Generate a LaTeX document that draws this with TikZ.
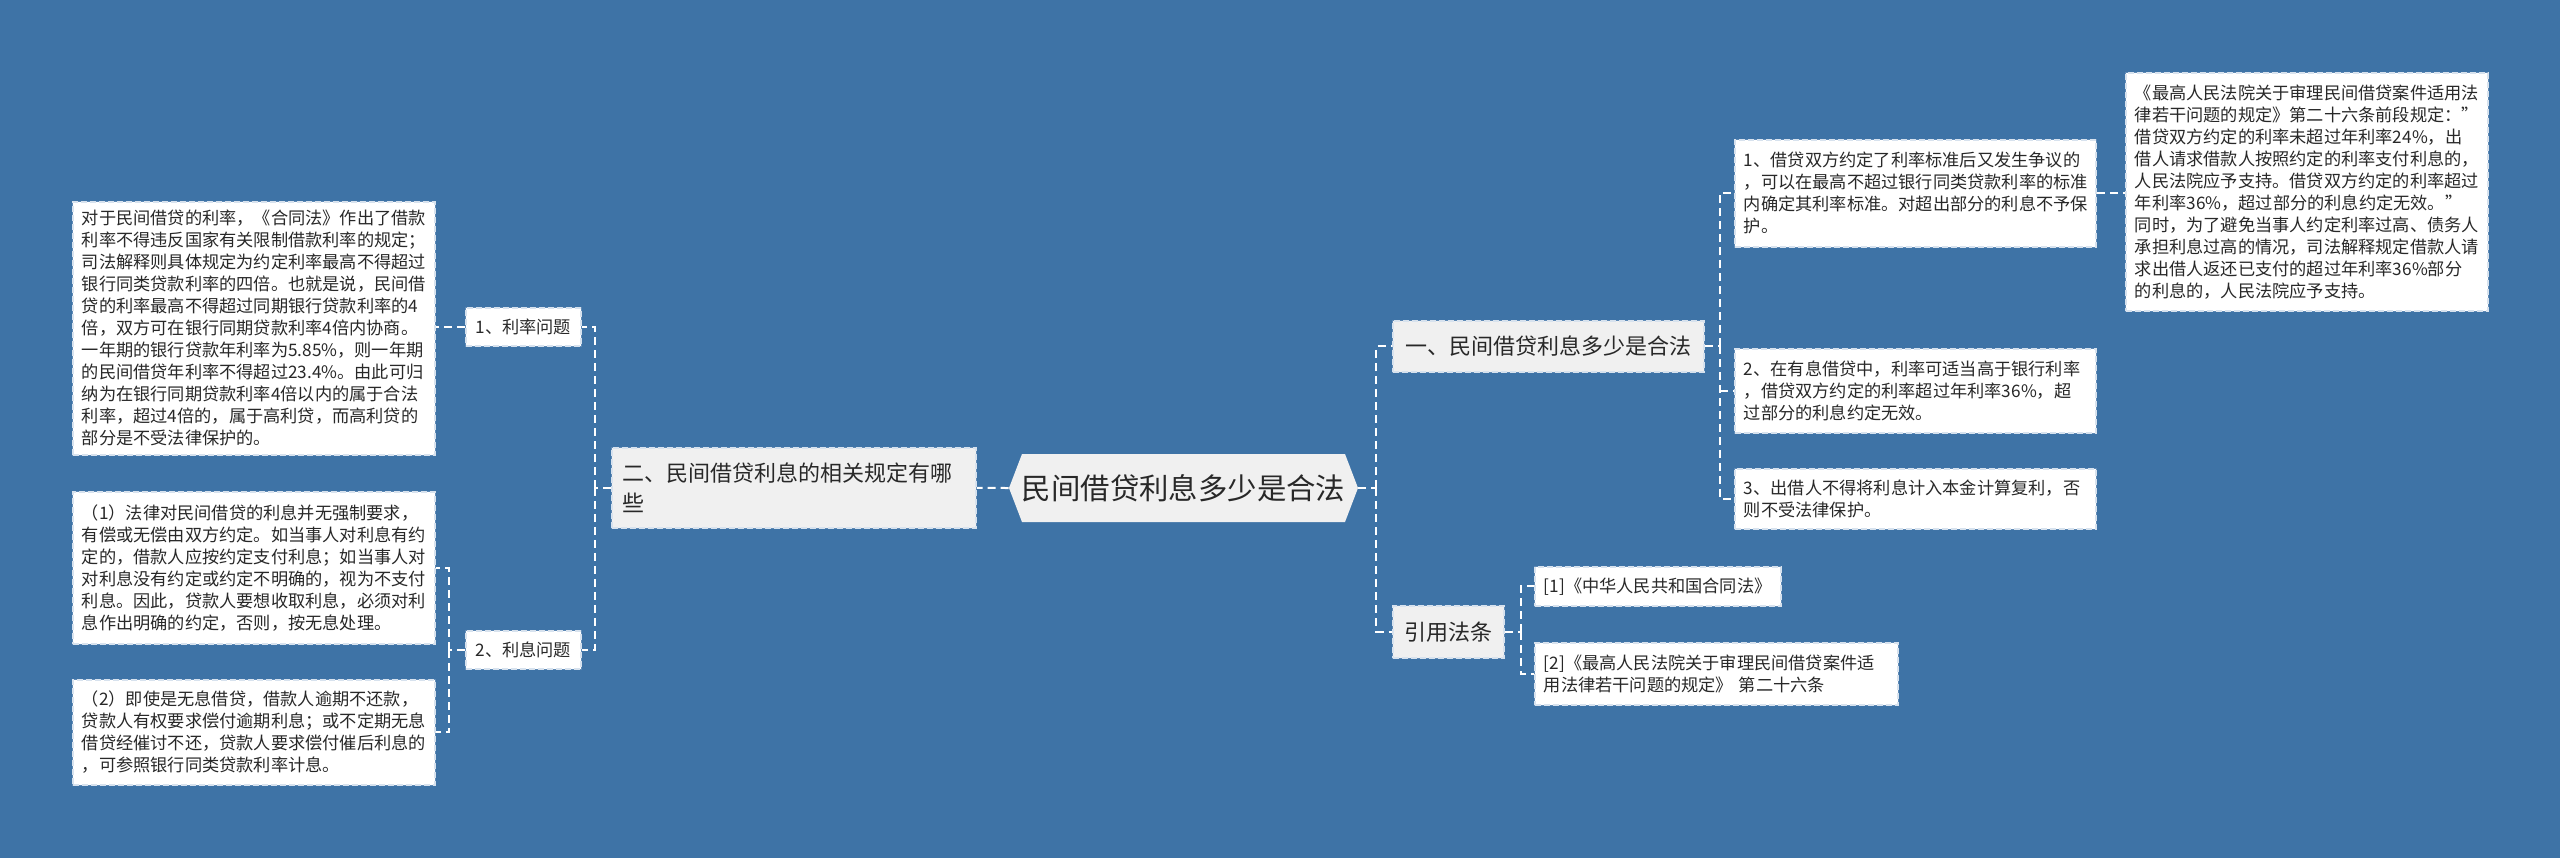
\documentclass[tikz,border=0pt]{standalone}
\usepackage{fontspec}
\setmainfont{Noto Sans CJK SC}
\definecolor{bgblue}{RGB}{62,115,166}
\definecolor{txt}{RGB}{40,40,40}
\definecolor{boxgap}{RGB}{95,138,182}
\definecolor{boxdash}{RGB}{215,226,238}
\definecolor{grayfill}{RGB}{240,240,240}
\begin{document}
\begin{tikzpicture}[x=0.5pt,y=-0.5pt,
  conn/.style={draw=white, line width=1pt, dash pattern=on 4pt off 2.5pt},
  frame/.style={preaction={draw=boxgap, solid, line width=0.9pt}, draw=boxdash,
    dash pattern=on 3pt off 1.5pt, line width=0.9pt, text=txt},
  leaf/.style={frame, fill=white,
    font=\fontsize{8.6pt}{11pt}\selectfont, align=left, inner xsep=4.5pt, inner ysep=0pt, anchor=north west},
  lbl/.style={frame, fill=white,
    font=\fontsize{8.6pt}{11pt}\selectfont, inner sep=0pt, anchor=north west},
  topic/.style={frame, fill=grayfill,
    font=\fontsize{11pt}{15pt}\selectfont, inner sep=0pt, anchor=north west},
  rootnode/.style={text=txt, font=\fontsize{14.7pt}{18pt}\selectfont, inner sep=0pt,
    minimum width=174.5pt, minimum height=34pt},
]
\fill[bgblue] (0,0) rectangle (2560,858);
\useasboundingbox (0,0) rectangle (2560,858);

% root shape
\fill[grayfill] (1009,488) -- (1022,454) -- (1345,454) -- (1358,488) -- (1345,522) -- (1022,522) -- cycle;
\node[rootnode] (root) at (1183.5,488) {民间借贷利息多少是合法};

% left side
\node[topic, align=left, text width=171pt, inner xsep=5.5pt, minimum width=182pt, minimum height=40pt] (two) at (611,447)
  {二、民间借贷利息的相关规定有哪\\些};
\node[lbl, minimum width=57.5pt, minimum height=19pt] (l1) at (465,307) {1、利率问题};
\node[lbl, minimum width=57.5pt, minimum height=19pt] (l2) at (465,630) {2、利息问题};
\node[leaf, text width=172pt, minimum width=181pt, minimum height=126.5pt] (A) at (72,201) {%
对于民间借贷的利率，《合同法》作出了借款\\
利率不得违反国家有关限制借款利率的规定；\\
司法解释则具体规定为约定利率最高不得超过\\
银行同类贷款利率的四倍。也就是说，民间借\\
贷的利率最高不得超过同期银行贷款利率的4\\
倍，双方可在银行同期贷款利率4倍内协商。\\
一年期的银行贷款年利率为5.85\%，则一年期\\
的民间借贷年利率不得超过23.4\%。由此可归\\
纳为在银行同期贷款利率4倍以内的属于合法\\
利率，超过4倍的，属于高利贷，而高利贷的\\
部分是不受法律保护的。};
\node[leaf, text width=172pt, minimum width=181pt, minimum height=76pt] (B) at (72,491) {%
（1）法律对民间借贷的利息并无强制要求，\\
有偿或无偿由双方约定。如当事人对利息有约\\
定的，借款人应按约定支付利息；如当事人对\\
对利息没有约定或约定不明确的，视为不支付\\
利息。因此，贷款人要想收取利息，必须对利\\
息作出明确的约定，否则，按无息处理。};
\node[leaf, text width=172pt, minimum width=181pt, minimum height=52.5pt] (C) at (72,679) {%
（2）即使是无息借贷，借款人逾期不还款，\\
贷款人有权要求偿付逾期利息；或不定期无息\\
借贷经催讨不还，贷款人要求偿付催后利息的\\
，可参照银行同类贷款利率计息。};

% right side
\node[topic, minimum width=155.5pt, minimum height=25.5pt] (one) at (1392,320) {一、民间借贷利息多少是合法};
\node[topic, minimum width=55.5pt, minimum height=26pt] (cite) at (1392,605) {引用法条};
\node[leaf, text width=171.5pt, minimum width=180.5pt, minimum height=53.5pt] (r1) at (1734,139) {%
1、借贷双方约定了利率标准后又发生争议的\\
，可以在最高不超过银行同类贷款利率的标准\\
内确定其利率标准。对超出部分的利息不予保\\
护。};
\node[leaf, text width=171.5pt, minimum width=180.5pt, minimum height=42pt] (r2) at (1734,348) {%
2、在有息借贷中，利率可适当高于银行利率\\
，借贷双方约定的利率超过年利率36\%，超\\
过部分的利息约定无效。};
\node[leaf, text width=171.5pt, minimum width=180.5pt, minimum height=30pt] (r3) at (1734,468) {%
3、出借人不得将利息计入本金计算复利，否\\
则不受法律保护。};
\node[leaf, text width=172pt, minimum width=181pt, minimum height=119pt] (rr) at (2125,72) {%
《最高人民法院关于审理民间借贷案件适用法\\
律若干问题的规定》第二十六条前段规定：”\\
借贷双方约定的利率未超过年利率24\%，出\\
借人请求借款人按照约定的利率支付利息的，\\
人民法院应予支持。借贷双方约定的利率超过\\
年利率36\%，超过部分的利息约定无效。”\\
同时，为了避免当事人约定利率过高、债务人\\
承担利息过高的情况，司法解释规定借款人请\\
求出借人返还已支付的超过年利率36\%部分\\
的利息的，人民法院应予支持。};
\node[leaf, text width=114pt, minimum width=123pt, minimum height=19.5pt] (ref1) at (1534,566) {%
[1]《中华人民共和国合同法》};
\node[leaf, text width=172.5pt, minimum width=181.5pt, minimum height=31pt] (ref2) at (1534,642) {%
[2]《最高人民法院关于审理民间借贷案件适\\
用法律若干问题的规定》 第二十六条};

% connectors
\draw[conn] (root.west) -- (two.east);
\coordinate (rj) at ([xshift=9pt]root.east);
\draw[conn] (root.east) -- (rj);
\draw[conn] (rj) |- (one.west);
\draw[conn] (rj) |- (cite.west);

\coordinate (oj) at ([xshift=7.5pt]one.east);
\draw[conn] (one.east) -- (oj);
\draw[conn] (oj) |- (r1.west);
\draw[conn] (oj) |- (r3.west);
\draw[conn] (oj |- r2.west) -- (r2.west);
\draw[conn] (r1.east) -- (r1.east -| rr.west);

\coordinate (cj) at ([xshift=8pt]cite.east);
\draw[conn] (cite.east) -- (cj);
\draw[conn] (cj) |- (ref1.west);
\draw[conn] (cj) |- (ref2.west);

\coordinate (tj) at ([xshift=-8pt]two.west);
\draw[conn] (two.west) -- (tj);
\draw[conn] (tj) |- (l1.east);
\draw[conn] (tj) |- (l2.east);
\draw[conn] (l1.west) -- (l1.west -| A.east);

\coordinate (lj) at ([xshift=-8pt]l2.west);
\draw[conn] (l2.west) -- (lj);
\draw[conn] (lj) |- (B.east);
\draw[conn] (lj) |- (C.east);
\end{tikzpicture}
\end{document}
